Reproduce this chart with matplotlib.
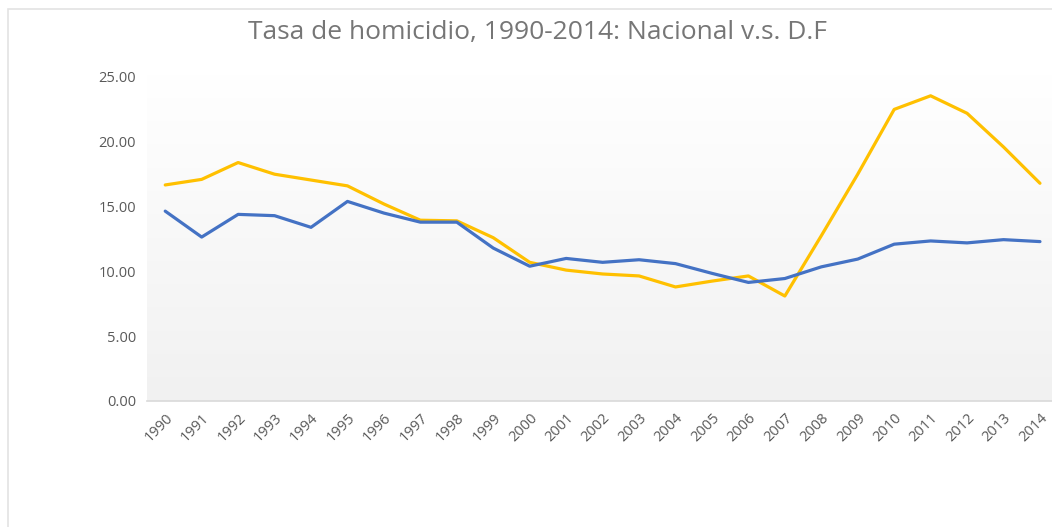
import numpy as np
import matplotlib
matplotlib.use("Agg")
import matplotlib.pyplot as plt
from matplotlib.patches import Rectangle

plt.rcParams["font.family"] = ["Open Sans", "DejaVu Sans"]

years = [str(y) for y in range(1990, 2015)]
nacional = [14.65, 12.65, 14.4, 14.3, 13.4, 15.4, 14.5, 13.8, 13.8, 11.8,
            10.4, 11.0, 10.7, 10.9, 10.6, 9.85, 9.15, 9.45, 10.35, 10.95,
            12.1, 12.35, 12.2, 12.45, 12.3]
df = [16.67, 17.1, 18.4, 17.5, 17.05, 16.6, 15.2, 13.95, 13.9, 12.6,
      10.7, 10.1, 9.8, 9.65, 8.8, 9.25, 9.65, 8.1, 12.75, 17.5,
      22.5, 23.55, 22.2, 19.6, 16.8]
y_ticks = [0, 5, 10, 15, 20, 25]

W, H = 1052, 527
fig = plt.figure(figsize=(W / 100, H / 100), dpi=100)
fig.patch.set_facecolor("white")

# chart area border (Excel style)
fig.add_artist(Rectangle((8 / W, -0.1), 1.2, 1 - 9 / H + 0.1, transform=fig.transFigure,
                         fill=False, edgecolor="#e3e3e3", linewidth=1.2))

ax = fig.add_axes([147 / W, 1 - 401 / H, 1 - 147 / W, (401 - 74) / H])
ax.set_xlim(-0.5, 24.33)
ax.set_ylim(0, 25 * (401 - 74) / (401 - 77))

# vertical gradient background
grad = np.linspace(0, 1, 256).reshape(-1, 1)
ax.imshow(grad, extent=[-0.5, 24.33, 0, ax.get_ylim()[1]], aspect="auto",
          cmap=matplotlib.colors.LinearSegmentedColormap.from_list("g", ["#f1f1f1", "#ffffff"]),
          origin="lower", zorder=0)

x = np.arange(len(years))
ax.plot(x, nacional, color="#4472C4", linewidth=2.3, zorder=3, solid_capstyle="round")
ax.plot(x, df, color="#FFC000", linewidth=2.3, zorder=2, solid_capstyle="round")

for s in ["top", "right", "left"]:
    ax.spines[s].set_visible(False)
ax.spines["bottom"].set_color("#d9d9d9")
ax.spines["bottom"].set_linewidth(1.2)

ax.set_yticks(y_ticks)
ax.set_yticklabels([f"{v:.2f}" for v in y_ticks])
ax.set_xticks(x)
ax.set_xticklabels(years, rotation=45, ha="right", va="top", rotation_mode="anchor")
ax.tick_params(axis="both", length=0, labelsize=10.5, colors="#595959")
ax.tick_params(axis="y", pad=8)
ax.tick_params(axis="x", pad=7)

fig.text(537 / W, 1 - 32 / H, "Tasa de homicidio, 1990-2014: Nacional v.s. D.F",
         ha="center", va="center", fontsize=19, color="#767676")

fig.savefig("out.png", dpi=100)
